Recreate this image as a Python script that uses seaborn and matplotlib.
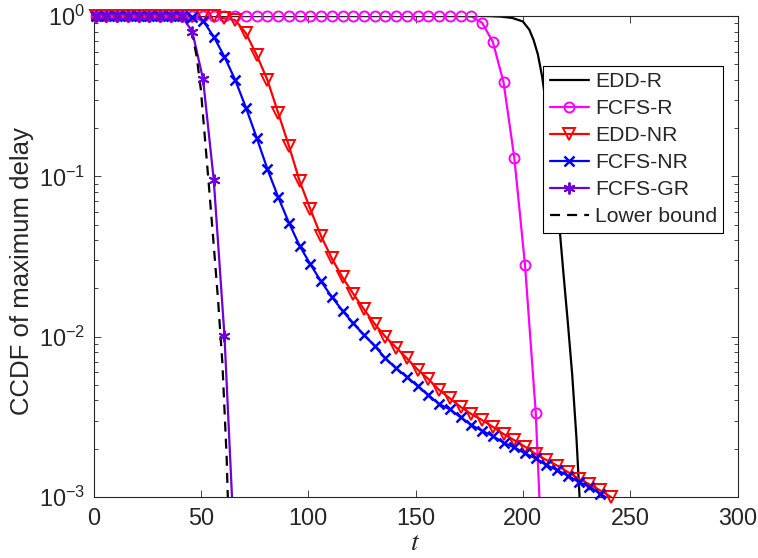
import numpy as np
import pandas as pd
import seaborn as sns
import matplotlib
matplotlib.use("Agg")
import matplotlib.pyplot as plt
from matplotlib.lines import Line2D

# ---------------- data ----------------
# marker grid shared by the marked series: t = 1, 6, 11, ...
def grid(n):
    return [1 + 5 * k for k in range(n)]

# EDD-R (no markers), log10 of CCDF
edd_r_t = [1, 180, 185, 190, 195, 200, 203, 205, 207, 209, 211, 213, 215, 217, 219, 221, 223, 225, 227]
edd_r_log = [0, 0, -0.001, -0.004, -0.012, -0.034, -0.085, -0.15, -0.24, -0.38, -0.57, -0.80, -1.05,
             -1.31, -1.62, -1.92, -2.24, -2.64, -3.15]

# FCFS-R (circles)
fcfs_r_t = grid(42)
fcfs_r_y = [1.0] * 35 + [0.995, 0.908, 0.691, 0.386, 0.131, 0.028, 0.00335]
fcfs_r_tail_t = [211]
fcfs_r_tail_y = [9.5e-5]

# EDD-NR (triangles)
edd_nr_t = grid(49)
edd_nr_y = [1.0] * 12 + [0.967, 0.944, 0.78, 0.571, 0.399, 0.249, 0.155, 0.0935, 0.0623, 0.0424,
                         0.0308, 0.0234, 0.0185, 0.0148, 0.012, 0.00998, 0.00855, 0.00732, 0.00623,
                         0.00544, 0.00465, 0.00412, 0.00365, 0.00329, 0.00302, 0.00274, 0.00247,
                         0.00226, 0.00206, 0.00185, 0.0017, 0.00157, 0.00143, 0.0013, 0.0012,
                         0.0011, 0.001]

# FCFS-NR (crosses)
fcfs_nr_t = grid(48)
fcfs_nr_y = [1.0] * 9 + [0.99, 0.935, 0.743, 0.557, 0.399, 0.268, 0.174, 0.111, 0.0743, 0.0514,
                         0.0369, 0.0283, 0.0221, 0.0177, 0.0145, 0.0121, 0.01026, 0.00874, 0.00732,
                         0.00634, 0.0056, 0.00492, 0.00432, 0.0038, 0.00352, 0.00314, 0.00281,
                         0.00259, 0.0024, 0.00218, 0.00204, 0.00187, 0.00174, 0.00158, 0.00147,
                         0.00136, 0.00124, 0.00116, 0.00105]
fcfs_nr_tail_t = [241]
fcfs_nr_tail_y = [0.00095]

# FCFS-GR (asterisks)
fcfs_gr_t = grid(13)
fcfs_gr_y = [1.0] * 9 + [0.80, 0.405, 0.095, 0.0101]
fcfs_gr_tail_t = [66]
fcfs_gr_tail_y = [3.7e-4]

# Lower bound (dashed), log10 of CCDF
lb_t = [1, 38, 40, 42, 44, 46, 48, 50, 52, 54, 56, 58, 60, 62, 63]
lb_log = [0, 0, -0.002, -0.01, -0.04, -0.11, -0.25, -0.46, -0.78, -1.10, -1.43, -1.77, -2.16, -2.75, -3.2]

labels = ["EDD-R", "FCFS-R", "EDD-NR", "FCFS-NR", "FCFS-GR", "Lower bound"]
colors = ["#000000", "#FF00FF", "#FF0000", "#0000FF", "#7000D8", "#000000"]
xticks = [0, 50, 100, 150, 200, 250, 300]

# ---------------- style ----------------
sns.set_theme(style="ticks")
plt.rcParams["font.family"] = ["Liberation Sans", "DejaVu Sans"]
plt.rcParams["mathtext.fontset"] = "custom"
plt.rcParams["mathtext.rm"] = "Liberation Sans"
plt.rcParams["mathtext.it"] = "Liberation Sans:italic"
plt.rcParams["mathtext.bf"] = "Liberation Sans:bold"

fig = plt.figure(figsize=(7.58, 5.58), dpi=100)
ax = fig.add_axes([0.1234, 0.1093, 0.8496, 0.862])

lw = 1.6
handles = []

def draw(t, y, color, label, nmark=None, marker=None, ms=7, mew=1.4, dashes=None):
    df = pd.DataFrame({"t": t, "y": y})
    kw = dict(color=color, linewidth=lw)
    if dashes is not None:
        kw.update(linestyle=(0, dashes))
    sns.lineplot(data=df, x="t", y="y", ax=ax, sort=False, estimator=None,
                 legend=False, **kw)
    mk = dict()
    if marker is not None:
        mk = dict(marker=marker, markersize=ms, markeredgewidth=mew,
                  markeredgecolor=color, markerfacecolor="none")
        dfm = df.iloc[:nmark]
        sns.lineplot(data=dfm, x="t", y="y", ax=ax, sort=False, estimator=None,
                     legend=False, linestyle="none", clip_on=False, zorder=3,
                     color=color, **mk)
    handles.append(Line2D([], [], label=label, **kw, **mk))

draw(edd_r_t, [10 ** v for v in edd_r_log], colors[0], labels[0])
draw(fcfs_r_t + fcfs_r_tail_t, fcfs_r_y + fcfs_r_tail_y, colors[1], labels[1],
     nmark=len(fcfs_r_y), marker="o", ms=7.2)
draw(edd_nr_t, edd_nr_y, colors[2], labels[2], nmark=len(edd_nr_y), marker="v", ms=8.5)
draw(fcfs_nr_t + fcfs_nr_tail_t, fcfs_nr_y + fcfs_nr_tail_y, colors[3], labels[3],
     nmark=len(fcfs_nr_y), marker="x", ms=7.5, mew=1.8)
draw(fcfs_gr_t + fcfs_gr_tail_t, fcfs_gr_y + fcfs_gr_tail_y, colors[4], labels[4],
     nmark=len(fcfs_gr_y), marker=(6, 2, 0), ms=8.5, mew=1.4)
draw(lb_t, [10 ** v for v in lb_log], colors[5], labels[5], dashes=(4.5, 3.2))

ax.set_yscale("log")
ax.set_xlim(0, 300)
ax.set_ylim(1e-3, 1.0)
ax.set_xticks(xticks)
ax.set_xticklabels([str(v) for v in xticks])
ax.xaxis.set_minor_locator(matplotlib.ticker.NullLocator())
ax.set_yticks([1e-3, 1e-2, 1e-1, 1e0])
ax.yaxis.set_minor_locator(matplotlib.ticker.LogLocator(base=10, subs=np.arange(2, 10)))
ax.yaxis.set_minor_formatter(matplotlib.ticker.NullFormatter())

axc = "#262626"
for s in ax.spines.values():
    s.set_visible(True)
    s.set_color(axc)
    s.set_linewidth(0.8)
    s.set_zorder(2.5)
ax.tick_params(which="both", direction="in", top=True, right=True, colors=axc,
               labelcolor=axc, width=0.6)
ax.tick_params(which="major", length=5, labelsize=16.8)
ax.tick_params(axis="x", which="major", pad=7)
ax.tick_params(axis="y", which="major", pad=6)
ax.tick_params(which="minor", length=2.8)

ax.set_xlabel("$t$", fontsize=20, color=axc, labelpad=0, math_fontfamily="stix")
ax.set_ylabel("CCDF of maximum delay", fontsize=18.5, color=axc, labelpad=4)
ax.yaxis.set_label_coords(-0.093, 0.47)
ax.grid(False)

leg = ax.legend(handles=handles, loc="upper right", bbox_to_anchor=(0.978, 0.896),
                borderaxespad=0, fontsize=15.2, frameon=True, fancybox=False,
                edgecolor="#000000", framealpha=1, handlelength=1.85, handletextpad=0.3,
                labelspacing=0.38, borderpad=0.3)
leg.get_frame().set_linewidth(0.8)
leg.set_zorder(5)

fig.savefig("out.png", dpi=100)
